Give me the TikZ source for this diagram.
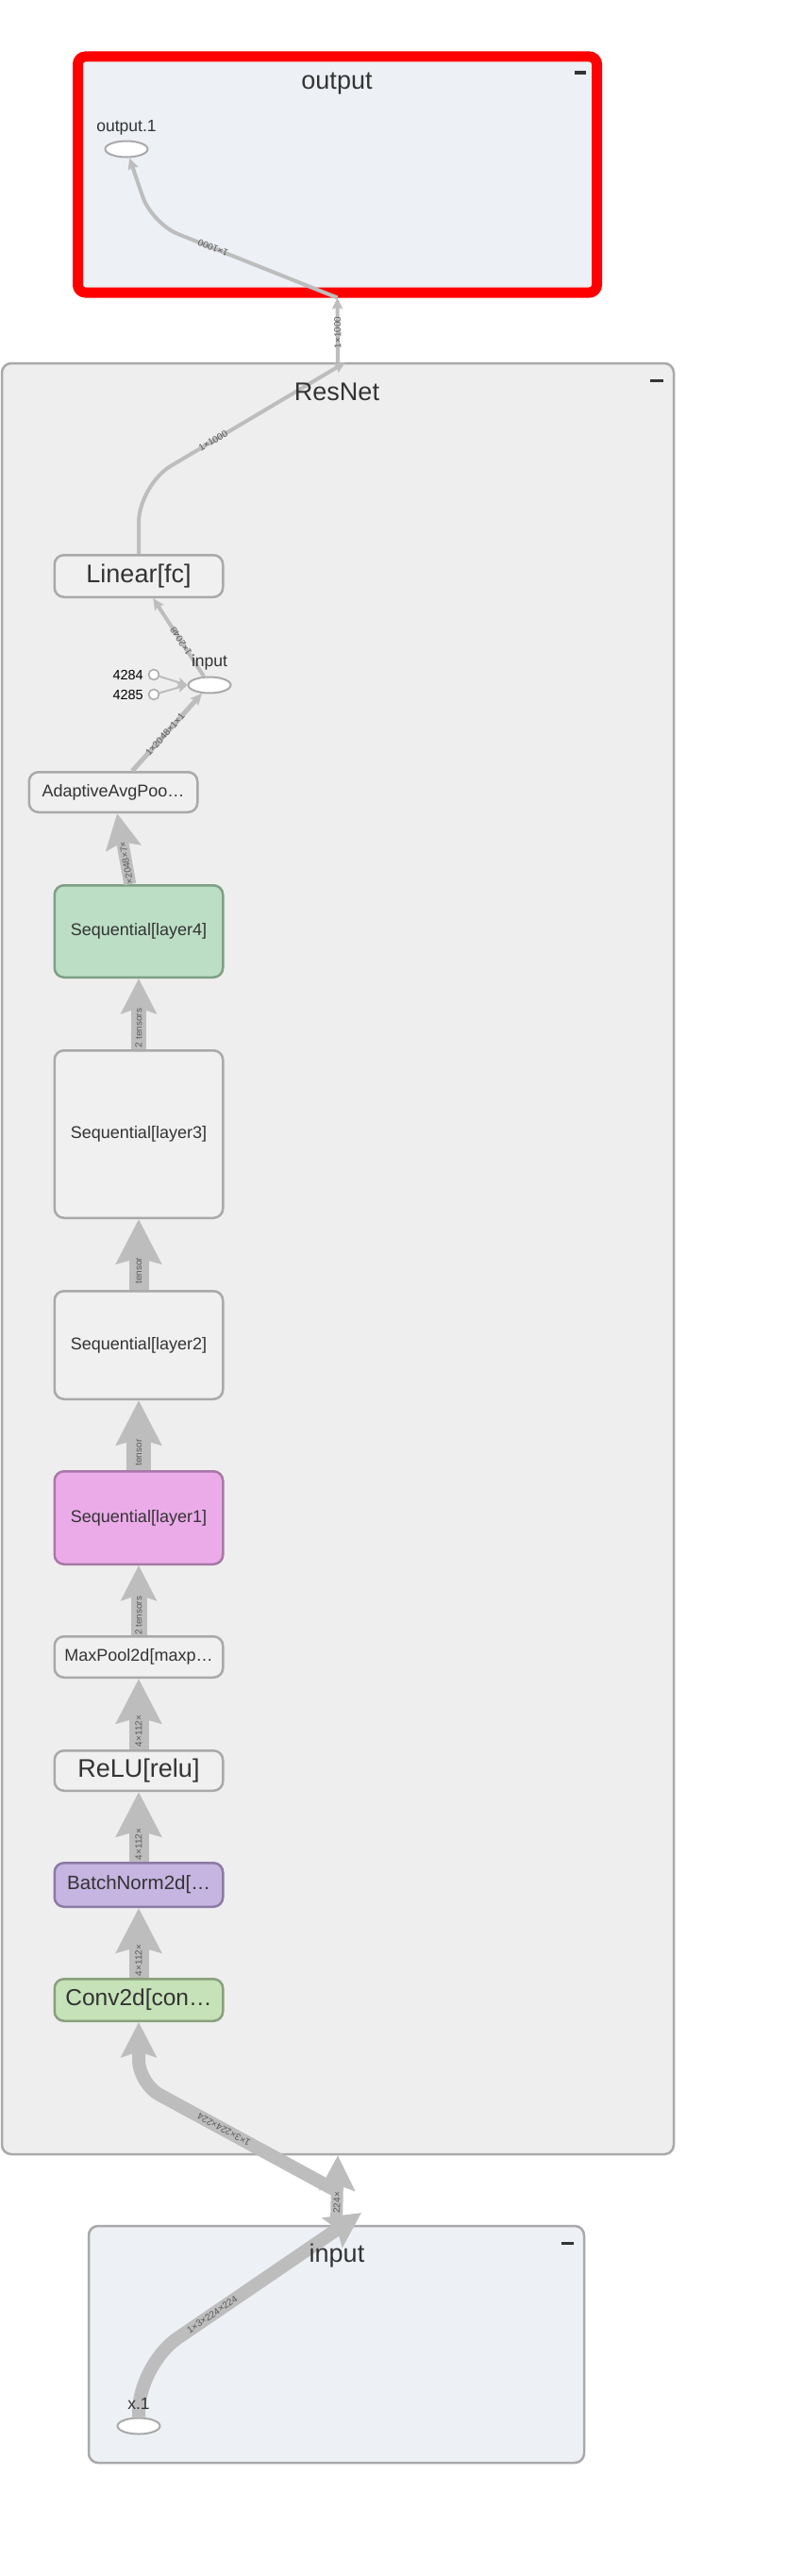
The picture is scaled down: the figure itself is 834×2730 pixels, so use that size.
\documentclass[tikz,border=0pt]{standalone}
\usepackage{fontspec}
\setmainfont{Liberation Sans}
\usetikzlibrary{arrows.meta,shapes.geometric}

\definecolor{edgegray}{HTML}{BDBDBD}
\definecolor{boxline}{HTML}{A9A9A9}
\definecolor{resfill}{HTML}{EEEEEE}
\definecolor{iofill}{HTML}{EDF0F5}
\definecolor{nodefill}{HTML}{F0F0F0}
\definecolor{ink}{HTML}{333333}
\definecolor{lblgray}{HTML}{5A5A5A}
\definecolor{greenfill}{HTML}{BCDEC5}
\definecolor{greenline}{HTML}{7E9F86}
\definecolor{pinkfill}{HTML}{EBABE9}
\definecolor{pinkline}{HTML}{A878A6}
\definecolor{lilacfill}{HTML}{C6B5E0}
\definecolor{lilacline}{HTML}{8C7AA5}
\definecolor{convfill}{HTML}{C6E2B8}
\definecolor{convline}{HTML}{88A07B}

\tikzset{pipe/.style 2 args={draw=edgegray, line width=#1, -{Stealth[length=#2, width=#2, inset=6pt]}}}

\begin{document}
\begin{tikzpicture}[x=1pt,y=-1pt]
    \tikzstyle{panel}=[rectangle, rounded corners=10pt, draw=boxline, line width=2.5pt, inner sep=0pt]
    \tikzstyle{op}=[rectangle, rounded corners=10pt, draw=boxline, line width=2.5pt, fill=nodefill, text=ink, minimum width=178.5pt, inner sep=0pt]
    \tikzstyle{bigfont}=[font=\fontsize{27}{27}\selectfont]
    \tikzstyle{medfont}=[font=\fontsize{18}{18}\selectfont]
    \tikzstyle{heading}=[font=\fontsize{27}{27}\selectfont, text=ink, inner sep=0pt]
    \tikzstyle{io}=[ellipse, draw=boxline, line width=2pt, fill=white, minimum width=45pt, minimum height=17pt, inner sep=0pt]
    \tikzstyle{const}=[circle, draw=boxline, line width=1.5pt, fill=white, minimum size=11pt, inner sep=0pt]
    \tikzstyle{iolbl}=[font=\fontsize{17.5}{17.5}\selectfont, text=ink, inner sep=0pt]
    \tikzstyle{numlbl}=[font=\fontsize{14.5}{14.5}\selectfont, text=black, inner sep=0pt]
    \tikzstyle{lbl}=[font=\fontsize{10}{10}\selectfont, text=lblgray, inner sep=0pt, sloped, allow upside down]
    \tikzstyle{slim}=[draw=edgegray, line width=4pt, -{Stealth[length=12pt, width=11pt, inset=2pt]}]
    \tikzstyle{wire}=[draw=edgegray, line width=2pt, -{Stealth[length=10pt, width=10pt, inset=2pt]}]

    \fill[white] (0,0) rectangle (834,2730);
    \useasboundingbox (0,0) rectangle (834,2730);

    % groups
    \node[panel, fill=iofill, draw=red, line width=11pt, rounded corners=8pt, minimum width=550pt, minimum height=250pt] (outbox) at (357.5,185) {};
    \node[panel, fill=resfill, minimum width=712pt, minimum height=1898pt] (resnet) at (358,1334) {};
    \node[panel, fill=iofill, minimum width=525pt, minimum height=251pt] (inbox) at (356.5,2484.5) {};

    \draw[ink, line width=3pt] (609,77) -- (621,77);
    \draw[ink, line width=3pt] (689,403) -- (703,403);
    \draw[ink, line width=3pt] (595,2377) -- (608,2377);

    % ops
    \node[op, bigfont, minimum height=44.5pt] (fc) at (147,610.5) {Linear[fc]};
    \node[op, medfont, minimum height=42.5pt] (pool) at (120,839.5) {AdaptiveAvgPoo…};
    \node[op, medfont, fill=greenfill, draw=greenline, minimum height=97.5pt] (layer4) at (147,987) {Sequential[layer4]};
    \node[op, medfont, minimum height=177.5pt] (layer3) at (147,1202) {Sequential[layer3]};
    \node[op, medfont, minimum height=114.5pt] (layer2) at (147,1425.5) {Sequential[layer2]};
    \node[op, medfont, fill=pinkfill, draw=pinkline, minimum height=98.5pt] (layer1) at (147,1608.5) {Sequential[layer1]};
    \node[op, medfont, minimum height=43.5pt] (maxpool) at (147,1756) {MaxPool2d[maxp…};
    \node[op, bigfont, minimum height=42.5pt] (relu) at (147,1876.5) {ReLU[relu]};
    \node[op, font=\fontsize{20.5}{20.5}\selectfont, fill=lilacfill, draw=lilacline, minimum height=46.5pt] (bn) at (147,1997.5) {BatchNorm2d[…};
    \node[op, font=\fontsize{24.5}{24.5}\selectfont, fill=convfill, draw=convline, minimum height=44.5pt] (conv) at (147,2119.5) {Conv2d[con…};

    \node[io] (out1) at (134,158) {};
    \node[io] (inp) at (222,726) {};
    \node[io] (x1) at (147,2571) {};
    \node[const] (c4284) at (163,715) {};
    \node[const] (c4285) at (163,736) {};

    \coordinate (rtop) at (366,384);
    \coordinate (rbot) at (357,2322);
    \coordinate (intip) at (383,2345);

    % edges
    \draw[slim] (resnet.north) -- node[lbl, pos=.46] {1×1000} (outbox.south);
    \draw[slim, rounded corners=30pt] (outbox.south) -- node[lbl, pos=.67] {1×1000} (161,237) -- (out1);
    \draw[slim, rounded corners=40pt] (fc) -- (147,514) -- node[lbl, pos=.36] {1×1000} (rtop);
    \draw[slim] (inp) -- node[lbl, pos=.45] {1×2048} (fc);
    \draw[wire] (c4284) -- (inp.west);
    \draw[wire] (c4285) -- (inp.west);
    \draw[slim, line width=5pt] (pool) -- node[lbl, pos=.47] {1×2048×1×1} (inp);
    \draw[pipe={13pt}{37pt}] (layer4) -- node[lbl, pos=.3] {×2048×7×} (pool);
    \draw[pipe={16pt}{37pt}] (layer3) -- node[lbl, pos=.3] {2 tensors} (layer4);
    \draw[pipe={21pt}{47pt}] (layer2) -- node[lbl, pos=.27] {tensor} (layer3);
    \draw[pipe={26pt}{47pt}] (layer1) -- node[lbl, pos=.25] {tensor} (layer2);
    \draw[pipe={17pt}{37pt}] (maxpool) -- node[lbl, pos=.28] {2 tensors} (layer1);
    \draw[pipe={21pt}{47pt}] (relu) -- node[lbl, pos=.26] {4×112×} (maxpool);
    \draw[pipe={21pt}{47pt}] (bn) -- node[lbl, pos=.25] {4×112×} (relu);
    \draw[pipe={21pt}{47pt}] (conv) -- node[lbl, pos=.25] {4×112×} (bn);
    \draw[pipe={14pt}{37pt}, rounded corners=25pt] (rbot) -- node[lbl, pos=.57] {1×3×224×224} (147,2208) -- (conv);
    \draw[pipe={13pt}{37pt}] (inbox.north) -- node[lbl, pos=.32] {224×} (resnet.south);
    \draw[pipe={14pt}{37pt}, rounded corners=50pt] (x1) -- (147,2506) -- node[lbl, pos=.33] {1×3×224×224} (intip);

    % titles and names
    \node[heading] (outtitle) at (357,89) {output};
    \node[heading] (restitle) at (357,415) {ResNet};
    \node[heading] (intitle) at (357,2390) {input};
    \node[iolbl] (out1lbl) at (134,135) {output.1};
    \node[iolbl] (inplbl) at (222,702) {input};
    \node[iolbl] (x1lbl) at (147,2547) {x.1};
    \node[numlbl, anchor=east] (n4284) at (152,715) {4284};
    \node[numlbl, anchor=east] (n4285) at (152,736) {4285};
\end{tikzpicture}
\end{document}
